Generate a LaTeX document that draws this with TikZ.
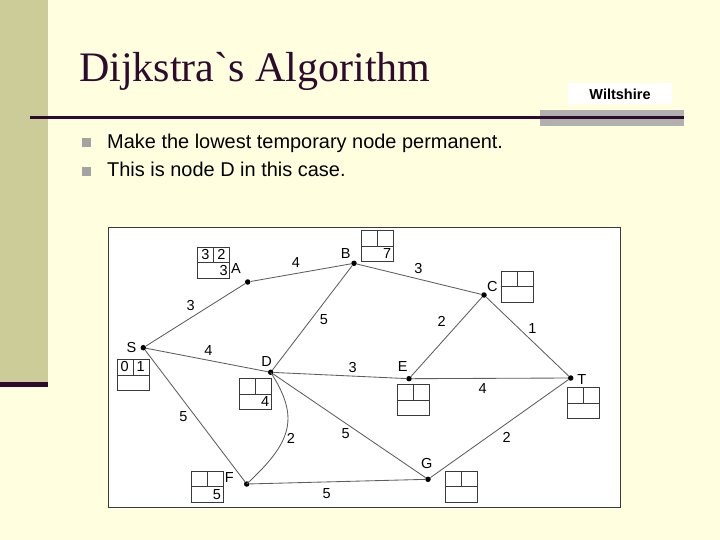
\documentclass[tikz,border=0pt]{standalone}
\usepackage{fontspec}
\setmainfont{Liberation Sans}
\newfontfamily\titlefont{Liberation Serif}[Ligatures=TeXOff]
\usetikzlibrary{calc}
\definecolor{bgc}{HTML}{FFFFE0}
\definecolor{sidec}{HTML}{CCCC99}
\definecolor{darkc}{HTML}{2E0A2E}
\definecolor{greyrect}{HTML}{B2AFAF}
\definecolor{bulletc}{HTML}{A3A3A3}
\definecolor{edgec}{HTML}{5E5E5E}
\definecolor{boxc}{HTML}{3A3A3A}
\tikzset{
  vtx/.style={circle, fill=black, inner sep=0pt, minimum size=5.5pt},
  lbl/.style={inner sep=0pt, font=\fontsize{14.5}{15}\selectfont},
  wgt/.style={inner sep=0pt, font=\fontsize{14.5}{15}\selectfont},
  edge/.style={draw=edgec, line width=0.85pt},
  wbox/.style={draw=boxc, line width=0.9pt, minimum width=32pt, minimum height=31pt, inner sep=0pt, anchor=north west},
  divline/.style={draw=boxc, line width=0.9pt},
  num/.style={inner sep=0pt, font=\fontsize{14.5}{15}\selectfont},
  bulletsq/.style={fill=bulletc},
  bullettext/.style={anchor=base west, inner sep=0pt, font=\fontsize{19.95}{22}\selectfont}
}
\newcommand\distbox[3]{%
  \node[wbox] (#1) at (#2,#3) {};
  \draw[divline] (#1.west) -- (#1.east);
  \draw[divline] (#1.north) -- (#1.center);
}
\begin{document}
\begin{tikzpicture}[x=1pt,y=-1pt]
\useasboundingbox (0,0) rectangle (720,540);
\fill[bgc] (0,0) rectangle (720,540);
% left side bar
\fill[sidec] (0,0) rectangle (47.5,382);
\fill[darkc] (0,382) rectangle (47.5,387);
% title
\node[anchor=base west, inner sep=0pt, text=darkc, font=\titlefont\fontsize{42}{44}\selectfont] (title) at (79,82) {Dijkstra`s Algorithm};
% rule
\fill[greyrect] (540,110.5) rectangle (684,126.5);
\fill[darkc] (30,116) rectangle (684,119);
\node[fill=white, minimum width=104pt, minimum height=21pt, inner sep=0pt, font=\bfseries\fontsize{14.5}{15}\selectfont] (wilt) at (620,94) {Wiltshire};
% bullets
\fill[bulletsq] (82,138.5) rectangle (91,147.5);
\node[bullettext] (b1) at (107,148.5) {Make the lowest temporary node permanent.};
\fill[bulletsq] (82,167) rectangle (91,176);
\node[bullettext] (b2) at (107,177) {This is node D in this case.};
% graph frame
\draw[draw=boxc, line width=0.9pt, fill=white] (108.3,227.3) rectangle (620.5,507);
% vertices
\node[vtx] (S) at (143.3,347.7) {};
\node[vtx] (A) at (247.7,282) {};
\node[vtx] (B) at (354,263.3) {};
\node[vtx] (C) at (484,295) {};
\node[vtx] (D) at (270.7,372.3) {};
\node[vtx] (E) at (409,378.7) {};
\node[vtx] (T) at (570.7,378) {};
\node[vtx] (F) at (246.7,484) {};
\node[vtx] (G) at (428,479.3) {};
% vertex labels
\node[lbl] (lS) at (131.5,347.7) {S};
\node[lbl] (lA) at (236,268.3) {A};
\node[lbl] (lB) at (345.7,253.3) {B};
\node[lbl] (lC) at (492.3,286.7) {C};
\node[lbl] (lD) at (266.7,361.7) {D};
\node[lbl] (lE) at (402.7,366.7) {E};
\node[lbl] (lT) at (581.7,379.5) {T};
\node[lbl] (lF) at (229.3,477.7) {F};
\node[lbl] (lG) at (426.7,464) {G};
% edges
\draw[edge] (S) -- (A);
\draw[edge] (A) -- (B);
\draw[edge] (B) -- (D);
\draw[edge] (S) -- (D);
\draw[edge] (D) -- (E);
\draw[edge] (B) -- (C);
\draw[edge] (C) -- (E);
\draw[edge] (C) -- (T);
\draw[edge] (E) -- (T);
\draw[edge] (G) -- (T);
\draw[edge] (S) -- (F);
\draw[edge] (D) -- (G);
\draw[edge] (F) -- (G);
\draw[edge] (D.center) .. controls (300,418) and (292,442) .. (F.center);
% weights
\node[wgt] (wSA) at (190.7,305.7) {3};
\node[wgt] (wAB) at (296,262.3) {4};
\node[wgt] (wBD) at (324,320) {5};
\node[wgt] (wSD) at (208.3,351) {4};
\node[wgt] (wDE) at (352.7,367.5) {3};
\node[wgt] (wBC) at (418.3,269) {3};
\node[wgt] (wCE) at (441.7,321.7) {2};
\node[wgt] (wCT) at (532.3,328.3) {1};
\node[wgt] (wET) at (482.7,388.3) {4};
\node[wgt] (wGT) at (506.7,437.3) {2};
\node[wgt] (wSF) at (183.3,416.7) {5};
\node[wgt] (wDF) at (291,438.3) {2};
\node[wgt] (wDG) at (345.7,433.3) {5};
\node[wgt] (wFG) at (326.7,493.3) {5};
% distance boxes
\distbox{bA}{197.3}{246.7}
\node[num] (bA-tl) at ($(bA.north west)+(8,7.75)$) {3};
\node[num] (bA-tr) at ($(bA.north west)+(24,7.75)$) {2};
\node[num, anchor=east] (bA-b) at ($(bA.north west)+(30.5,23.5)$) {3};
\distbox{bB}{361}{230}
\node[num, anchor=east] (bB-b) at ($(bB.north west)+(30.5,23.5)$) {7};
\distbox{bC}{500.7}{270.7}
\distbox{bS}{116.7}{359}
\node[num] (bS-tl) at ($(bS.north west)+(8,7.75)$) {0};
\node[num] (bS-tr) at ($(bS.north west)+(24,7.75)$) {1};
\distbox{bD}{239}{378.3}
\node[num, anchor=east] (bD-b) at ($(bD.north west)+(30.5,23.5)$) {4};
\distbox{bE}{397.3}{384}
\distbox{bT}{566.7}{387.3}
\distbox{bG}{445}{470.7}
\distbox{bF}{190.7}{470.7}
\node[num, anchor=east] (bF-b) at ($(bF.north west)+(30.5,23.5)$) {5};
\end{tikzpicture}
\end{document}
